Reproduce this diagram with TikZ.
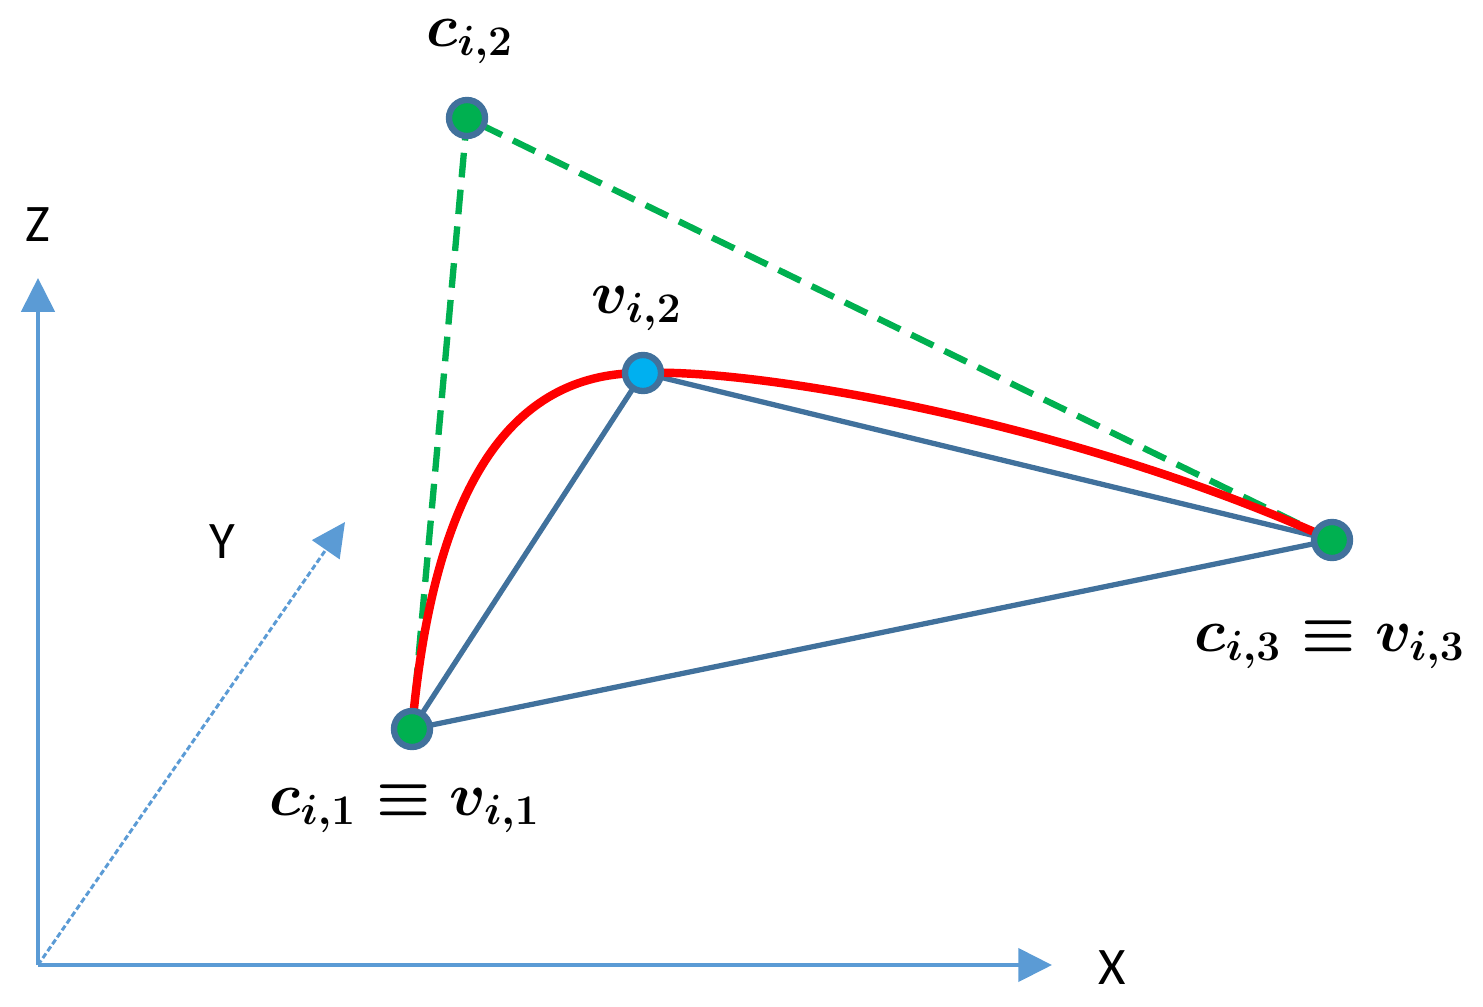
\documentclass[tikz,border=0pt]{standalone}
\usepackage{fontspec}
\newfontfamily\axisfont{Carlito}
\usetikzlibrary{arrows.meta, positioning}
\definecolor{axisblue}{HTML}{5B9BD5}
\definecolor{edgeblue}{HTML}{41719C}
\definecolor{ptgreen}{HTML}{00B050}
\definecolor{ptcyan}{HTML}{00B0F0}
\tikzset{
	axis/.style={axisblue, line width=1.2pt, -{Triangle[width=9.4pt, length=9.6pt]}},
	axlabel/.style={font=\axisfont\fontsize{15}{18}\selectfont},
	pt/.style={circle, draw=edgeblue, line width=1.8pt, minimum size=0.36cm, inner sep=0pt},
	mlabel/.style={font=\fontsize{16.5}{20}\selectfont\boldmath},
	edge/.style={edgeblue, line width=1.5pt},
	hull/.style={ptgreen, line width=1.8pt, dash pattern=on 7pt off 3.5pt},
	spline/.style={red, line width=2.4pt}
}

\begin{document}
\begin{tikzpicture}[x=0.01cm, y=-0.01cm]
			\useasboundingbox (0,0) rectangle (1483,1006);
			% axes
			\coordinate (o) at (38,965);
			\coordinate (xend) at (1052,965);
			\coordinate (yend) at (345,522);
			\coordinate (zend) at (38,278);
			\draw[axis] (o) -- (xend);
			\draw[axis] (o) -- (zend);
			\draw[axis, line width=0.85pt, dash pattern=on 1.6pt off 0.8pt] (o) -- (yend);
			\node[axlabel] (xlab) at (1112,968) {X};
			\node[axlabel] (ylab) at (222,542) {Y};
			\node[axlabel] (zlab) at (38,225) {Z};
			% control and via points
			\coordinate (p1) at (412,729);
			\coordinate (p2) at (467,118);
			\coordinate (p3) at (1332,540);
			\coordinate (q2) at (643,373);
			% triangle of v's
			\draw[edge] (p1) -- (q2) -- (p3) -- cycle;
			% control polygon
			\draw[hull] (p1) -- (p2) -- (p3);
			% curve
			\draw[spline] (p1) .. controls (435,470) and (520,372) .. (q2)
				.. controls (760,368) and (1080,425) .. (p3);
			% points
			\node[pt, fill=ptgreen] (c1) at (p1) {};
			\node[pt, fill=ptgreen] (c2) at (p2) {};
			\node[pt, fill=ptgreen] (c3) at (p3) {};
			\node[pt, fill=ptcyan] (v2) at (q2) {};
			% labels
			\node[mlabel] (c2lab) at (470,42) {$c_{i,2}$};
			\node[mlabel] (v2lab) at (637,309) {$v_{i,2}$};
			\node[mlabel] (c3lab) at (1330,645) {$c_{i,3}\equiv v_{i,3}$};
			\node[mlabel] (c1lab) at (405,809) {$c_{i,1}\equiv v_{i,1}$};
		\end{tikzpicture}
\end{document}
